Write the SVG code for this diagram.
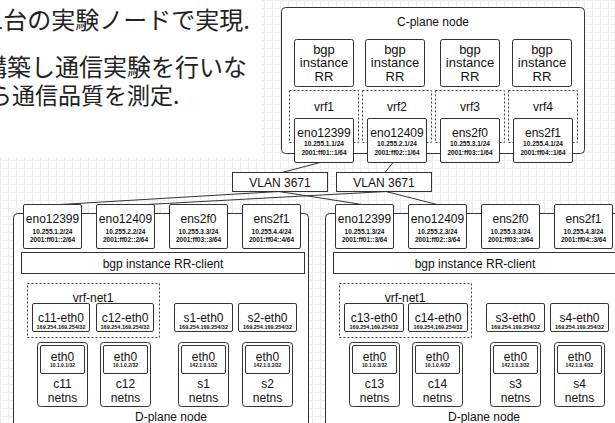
<svg xmlns="http://www.w3.org/2000/svg" width="615" height="423" viewBox="0 0 615 423">
<defs>
<pattern id="grid" width="8" height="8" patternUnits="userSpaceOnUse"><path d="M8 0.5H0.5V8" fill="none" stroke="#ededed" stroke-width="1"/></pattern>
<style>
.box{fill:#fff;stroke:#333;stroke-width:1}
.dash{fill:none;stroke:#444;stroke-width:1;stroke-dasharray:2 2}
.t{font-family:"Liberation Sans",Arial,sans-serif;font-size:12px;fill:#111;text-anchor:middle}
.b{font-size:13px}
.s{font-size:6.5px;font-weight:bold}
.xs{font-size:5.5px;font-weight:bold}
.xxs{font-size:5px;font-weight:bold}
.jp{font-family:"Noto Sans CJK JP",sans-serif;font-size:24px;fill:#222}
.edge{stroke:#333;stroke-width:1;fill:none}
</style>
</defs>
<rect width="615" height="423" fill="#fff"/>
<rect width="615" height="423" fill="url(#grid)"/>
<rect width="262" height="158" fill="#fff"/>
<g id="caption">
<text class="jp" x="-10" y="29">1台の実験ノードで実現.</text>
<text class="jp" x="-17" y="76">構築し通信実験を行いな</text>
<text class="jp" x="-11" y="104" style="font-size:23px">ら通信品質を測定.</text>
</g>
<g id="c-plane">
<rect class="box" x="281.5" y="7.5" width="303" height="146" rx="4"/>
<text class="t" x="433" y="26">C-plane node</text>
</g>
<g id="bgp-rr1"><rect class="box" x="294.5" y="39.5" width="59" height="47" rx="2"/><text class="t b" x="324" y="53.5">bgp</text><text class="t b" x="324" y="67">instance</text><text class="t b" x="324" y="80.5">RR</text></g>
<g id="bgp-rr2"><rect class="box" x="365.5" y="39.5" width="59" height="47" rx="2"/><text class="t b" x="395" y="53.5">bgp</text><text class="t b" x="395" y="67">instance</text><text class="t b" x="395" y="80.5">RR</text></g>
<g id="bgp-rr3"><rect class="box" x="440.5" y="39.5" width="59" height="47" rx="2"/><text class="t b" x="470" y="53.5">bgp</text><text class="t b" x="470" y="67">instance</text><text class="t b" x="470" y="80.5">RR</text></g>
<g id="bgp-rr4"><rect class="box" x="512.5" y="39.5" width="59" height="47" rx="2"/><text class="t b" x="542" y="53.5">bgp</text><text class="t b" x="542" y="67">instance</text><text class="t b" x="542" y="80.5">RR</text></g>
<g id="vrf1"><rect class="dash" x="289.5" y="90.5" width="69" height="52"/><text class="t" x="324" y="111">vrf1</text></g>
<g id="vrf2"><rect class="dash" x="362.5" y="90.5" width="69" height="52"/><text class="t" x="397" y="111">vrf2</text></g>
<g id="vrf3"><rect class="dash" x="435.5" y="90.5" width="69" height="52"/><text class="t" x="470" y="111">vrf3</text></g>
<g id="vrf4"><rect class="dash" x="508.5" y="90.5" width="69" height="52"/><text class="t" x="543" y="111">vrf4</text></g>
<g id="c-eno12399"><rect class="box" x="294.5" y="118.5" width="59" height="44" rx="1.5"/><text class="t" x="324" y="136.5">eno12399</text><text class="t s" x="324" y="145.5">10.255.1.1/24</text><text class="t s" x="324" y="154.5">2001:ff01::1/64</text></g>
<g id="c-eno12409"><rect class="box" x="367.5" y="118.5" width="59" height="44" rx="1.5"/><text class="t" x="397" y="136.5">eno12409</text><text class="t s" x="397" y="145.5">10.255.2.1/24</text><text class="t s" x="397" y="154.5">2001:ff02::1/64</text></g>
<g id="c-ens2f0"><rect class="box" x="440.5" y="118.5" width="59" height="44" rx="1.5"/><text class="t" x="470" y="136.5">ens2f0</text><text class="t s" x="470" y="145.5">10.255.3.1/24</text><text class="t s" x="470" y="154.5">2001:ff03::1/64</text></g>
<g id="c-ens2f1"><rect class="box" x="513.5" y="118.5" width="59" height="44" rx="1.5"/><text class="t" x="543" y="136.5">ens2f1</text><text class="t s" x="543" y="145.5">10.255.4.1/24</text><text class="t s" x="543" y="154.5">2001:ff04::1/64</text></g>
<g id="vlan1"><rect class="box" x="232.5" y="172.5" width="95" height="19"/><text class="t" x="280" y="186.5">VLAN 3671</text></g>
<g id="vlan2"><rect class="box" x="336.5" y="172.5" width="95" height="19"/><text class="t" x="384" y="186.5">VLAN 3671</text></g>

<g id="d-plane-1">
<rect class="box" x="13.5" y="213.5" width="295" height="240" rx="4"/>
<text class="t" x="171" y="421">D-plane node</text>
</g>
<g id="d1-eno12399"><rect class="box" x="23.5" y="204.5" width="58" height="44" rx="1.5"/><text class="t" x="52.5" y="223">eno12399</text><text class="t s" x="52.5" y="233.5">10.255.1.2/24</text><text class="t s" x="52.5" y="242">2001:ff01::2/64</text></g>
<g id="d1-eno12409"><rect class="box" x="96.5" y="204.5" width="58" height="44" rx="1.5"/><text class="t" x="125.5" y="223">eno12409</text><text class="t s" x="125.5" y="233.5">10.255.2.2/24</text><text class="t s" x="125.5" y="242">2001:ff02::2/64</text></g>
<g id="d1-ens2f0"><rect class="box" x="169.5" y="204.5" width="58" height="44" rx="1.5"/><text class="t" x="198.5" y="223">ens2f0</text><text class="t s" x="198.5" y="233.5">10.255.3.3/24</text><text class="t s" x="198.5" y="242">2001:ff03::3/64</text></g>
<g id="d1-ens2f1"><rect class="box" x="242.5" y="204.5" width="58" height="44" rx="1.5"/><text class="t" x="271.5" y="223">ens2f1</text><text class="t s" x="271.5" y="233.5">10.255.4.4/24</text><text class="t s" x="271.5" y="242">2001:ff04::4/64</text></g>
<g id="d1-bgp"><rect class="box" x="21.5" y="252.5" width="283" height="21"/><text class="t" x="163" y="267.5">bgp instance RR-client</text></g>
<g id="d1-vrf-net1"><rect class="dash" x="27.5" y="283.5" width="132" height="54"/><text class="t" x="93" y="301.5">vrf-net1</text></g>
<g id="c11-eth0"><rect class="box" x="32.5" y="303.5" width="57" height="28" rx="1.5"/><text class="t" x="61" y="321.5">c11-eth0</text><text class="t xs" x="61" y="329">169.254.169.254/32</text></g>
<g id="c12-eth0"><rect class="box" x="96.5" y="303.5" width="57" height="28" rx="1.5"/><text class="t" x="125" y="321.5">c12-eth0</text><text class="t xs" x="125" y="329">169.254.169.254/32</text></g>
<g id="s1-eth0"><rect class="box" x="174.5" y="303.5" width="58" height="28" rx="1.5"/><text class="t" x="203.5" y="321.5">s1-eth0</text><text class="t xs" x="203.5" y="329">169.254.169.254/32</text></g>
<g id="s2-eth0"><rect class="box" x="238.5" y="303.5" width="58" height="28" rx="1.5"/><text class="t" x="267.5" y="321.5">s2-eth0</text><text class="t xs" x="267.5" y="329">169.254.169.254/32</text></g>
<g id="c11-netns"><rect class="box" x="37.5" y="342.5" width="50" height="64" rx="3"/><rect class="box" x="40.5" y="345.5" width="44" height="28" rx="1.5"/><text class="t" x="62.5" y="360.5">eth0</text><text class="t xxs" x="62.5" y="367">10.1.0.1/32</text><text class="t" x="62.5" y="388">c11</text><text class="t" x="62.5" y="401.5">netns</text></g>
<g id="c12-netns"><rect class="box" x="100.5" y="342.5" width="50" height="64" rx="3"/><rect class="box" x="103.5" y="345.5" width="44" height="28" rx="1.5"/><text class="t" x="125.5" y="360.5">eth0</text><text class="t xxs" x="125.5" y="367">10.1.0.2/32</text><text class="t" x="125.5" y="388">c12</text><text class="t" x="125.5" y="401.5">netns</text></g>
<g id="s1-netns"><rect class="box" x="178.5" y="342.5" width="50" height="64" rx="3"/><rect class="box" x="181.5" y="345.5" width="44" height="28" rx="1.5"/><text class="t" x="203.5" y="360.5">eth0</text><text class="t xxs" x="203.5" y="367">142.1.0.1/32</text><text class="t" x="203.5" y="388">s1</text><text class="t" x="203.5" y="401.5">netns</text></g>
<g id="s2-netns"><rect class="box" x="242.5" y="342.5" width="50" height="64" rx="3"/><rect class="box" x="245.5" y="345.5" width="44" height="28" rx="1.5"/><text class="t" x="267.5" y="360.5">eth0</text><text class="t xxs" x="267.5" y="367">142.1.0.2/32</text><text class="t" x="267.5" y="388">s2</text><text class="t" x="267.5" y="401.5">netns</text></g>

<g id="d-plane-2">
<rect class="box" x="325.5" y="213.5" width="295" height="240" rx="4"/>
<text class="t" x="484" y="421">D-plane node</text>
</g>
<g id="d2-eno12399"><rect class="box" x="335.5" y="204.5" width="58" height="44" rx="1.5"/><text class="t" x="364.5" y="223">eno12399</text><text class="t s" x="364.5" y="233.5">10.255.1.3/24</text><text class="t s" x="364.5" y="242">2001:ff01::3/64</text></g>
<g id="d2-eno12409"><rect class="box" x="408.5" y="204.5" width="58" height="44" rx="1.5"/><text class="t" x="437.5" y="223">eno12409</text><text class="t s" x="437.5" y="233.5">10.255.2.3/24</text><text class="t s" x="437.5" y="242">2001:ff02::3/64</text></g>
<g id="d2-ens2f0"><rect class="box" x="481.5" y="204.5" width="58" height="44" rx="1.5"/><text class="t" x="510.5" y="223">ens2f0</text><text class="t s" x="510.5" y="233.5">10.255.3.3/24</text><text class="t s" x="510.5" y="242">2001:ff03::3/64</text></g>
<g id="d2-ens2f1"><rect class="box" x="554.5" y="204.5" width="58" height="44" rx="1.5"/><text class="t" x="583.5" y="223">ens2f1</text><text class="t s" x="583.5" y="233.5">10.255.4.3/24</text><text class="t s" x="583.5" y="242">2001:ff04::3/64</text></g>
<g id="d2-bgp"><rect class="box" x="333.5" y="252.5" width="283" height="21"/><text class="t" x="475" y="267.5">bgp instance RR-client</text></g>
<g id="d2-vrf-net1"><rect class="dash" x="339.5" y="283.5" width="132" height="54"/><text class="t" x="405" y="301.5">vrf-net1</text></g>
<g id="c13-eth0"><rect class="box" x="344.5" y="303.5" width="59" height="28" rx="1.5"/><text class="t" x="374" y="321.5">c13-eth0</text><text class="t xs" x="374" y="329">169.254.169.254/32</text></g>
<g id="c14-eth0"><rect class="box" x="408.5" y="303.5" width="59" height="28" rx="1.5"/><text class="t" x="438" y="321.5">c14-eth0</text><text class="t xs" x="438" y="329">169.254.169.254/32</text></g>
<g id="s3-eth0"><rect class="box" x="486.5" y="303.5" width="58" height="28" rx="1.5"/><text class="t" x="515.5" y="321.5">s3-eth0</text><text class="t xs" x="515.5" y="329">169.254.169.254/32</text></g>
<g id="s4-eth0"><rect class="box" x="550.5" y="303.5" width="58" height="28" rx="1.5"/><text class="t" x="579.5" y="321.5">s4-eth0</text><text class="t xs" x="579.5" y="329">169.254.169.254/32</text></g>
<g id="c13-netns"><rect class="box" x="349.5" y="342.5" width="50" height="64" rx="3"/><rect class="box" x="352.5" y="345.5" width="44" height="28" rx="1.5"/><text class="t" x="374.5" y="360.5">eth0</text><text class="t xxs" x="374.5" y="367">10.1.0.3/32</text><text class="t" x="374.5" y="388">c13</text><text class="t" x="374.5" y="401.5">netns</text></g>
<g id="c14-netns"><rect class="box" x="412.5" y="342.5" width="50" height="64" rx="3"/><rect class="box" x="415.5" y="345.5" width="44" height="28" rx="1.5"/><text class="t" x="437.5" y="360.5">eth0</text><text class="t xxs" x="437.5" y="367">10.1.0.4/32</text><text class="t" x="437.5" y="388">c14</text><text class="t" x="437.5" y="401.5">netns</text></g>
<g id="s3-netns"><rect class="box" x="490.5" y="342.5" width="50" height="64" rx="3"/><rect class="box" x="493.5" y="345.5" width="44" height="28" rx="1.5"/><text class="t" x="515.5" y="360.5">eth0</text><text class="t xxs" x="515.5" y="367">142.1.0.3/32</text><text class="t" x="515.5" y="388">s3</text><text class="t" x="515.5" y="401.5">netns</text></g>
<g id="s4-netns"><rect class="box" x="554.5" y="342.5" width="50" height="64" rx="3"/><rect class="box" x="557.5" y="345.5" width="44" height="28" rx="1.5"/><text class="t" x="579.5" y="360.5">eth0</text><text class="t xxs" x="579.5" y="367">142.1.0.4/32</text><text class="t" x="579.5" y="388">s4</text><text class="t" x="579.5" y="401.5">netns</text></g>

<g id="connectors">
<path class="edge" d="M320 162.5L282 172.5"/>
<path class="edge" d="M393 162.5L385 172.5"/>
<path class="edge" d="M279 191.5L60 204.5"/>
<path class="edge" d="M279 191.5L362 204.5"/>
<path class="edge" d="M386 191.5L147 204.5"/>
<path class="edge" d="M386 191.5L437 204.5"/>
</g>
</svg>
